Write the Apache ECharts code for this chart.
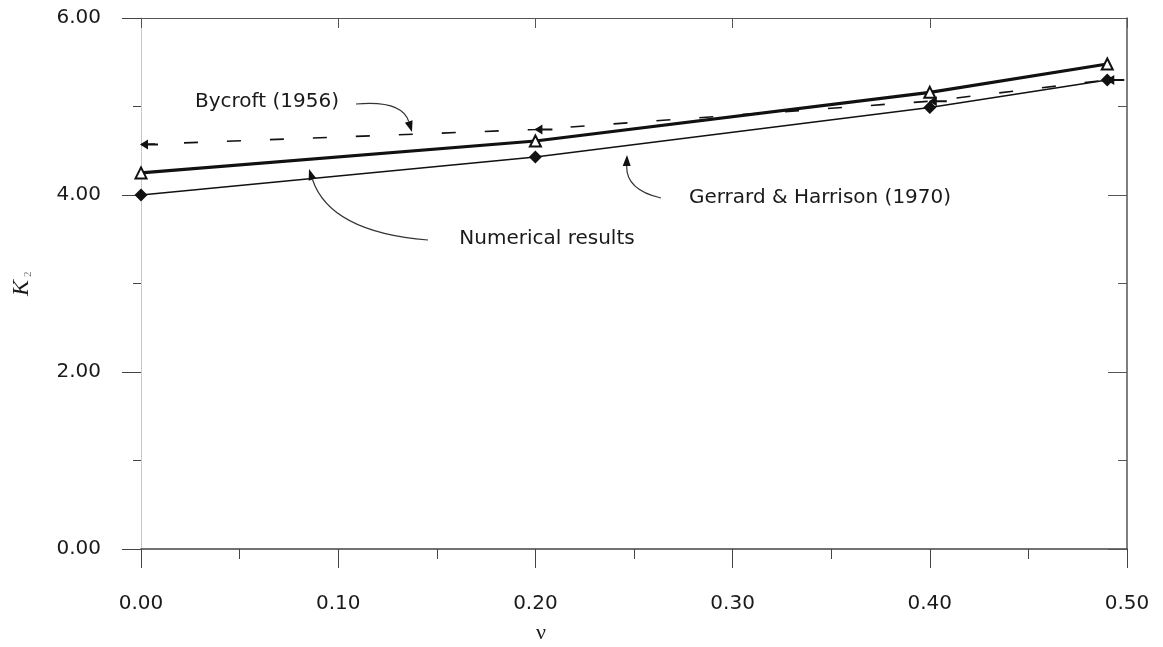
<!DOCTYPE html>
<html>
<head>
<meta charset="utf-8">
<script src="https://cdn.jsdelivr.net/npm/echarts@6/dist/echarts.min.js"></script>
<style>
  html, body { margin: 0; padding: 0; background: #fff; }
  #main { width: 1163px; height: 647px; }
</style>
</head>
<body>
<div id="main"></div>
<script>
// poisson ratio values
const nuValues = [0, 0.2, 0.4, 0.49]
// K2 curves
const numericalResults = [4.25, 4.61, 5.16, 5.48]
const gerrardHarrison = [4.0, 4.43, 4.99, 5.3]
const bycroft = [4.57, 4.74, 5.06, 5.3]

const pairs = ys => nuValues.map((x, i) => [x, ys[i]])

const tickFont = '"DejaVu Sans", "Liberation Sans", Arial, sans-serif'
const ink = '#1a1a1a'

/** curved leader line with arrow head */
function leader(sx, sy, cx, cy, tx, ty) {
  const dx = tx - cx, dy = ty - cy
  const len = Math.sqrt(dx * dx + dy * dy)
  const ux = dx / len, uy = dy / len
  const bx = tx - ux * 11, by = ty - uy * 11
  return [
    {
      type: 'bezierCurve',
      shape: { x1: sx, y1: sy, cpx1: cx, cpy1: cy, x2: bx, y2: by },
      style: { stroke: '#333', lineWidth: 1.2, fill: null }
    },
    {
      type: 'polygon',
      shape: { points: [[tx, ty], [bx - uy * 4, by + ux * 4], [bx + uy * 4, by - ux * 4]] },
      style: { fill: '#111' }
    }
  ]
}

const chart = echarts.init(document.getElementById('main'))

const option = {
  backgroundColor: '#fff',
  animation: false,
  grid: { left: 141, right: 36, top: 18, bottom: 98 },
  xAxis: [
    {
      type: 'value',
      position: 'bottom',
      min: 0,
      max: 0.5,
      interval: 0.1,
      axisLine: { onZero: false, lineStyle: { color: '#444', width: 1.5 } },
      axisTick: { length: 19, lineStyle: { color: '#444' } },
      minorTick: { show: true, splitNumber: 2, length: 10, lineStyle: { color: '#444' } },
      axisLabel: {
        margin: 45,
        color: ink,
        fontSize: 20,
        fontFamily: tickFont,
        formatter: v => v.toFixed(2)
      },
      splitLine: { show: false }
    },
    {
      type: 'value',
      position: 'top',
      min: 0,
      max: 0.5,
      interval: 0.1,
      axisLine: { onZero: false, lineStyle: { color: '#555', width: 1.2 } },
      axisTick: { inside: true, length: 10, lineStyle: { color: '#555' } },
      axisLabel: { show: false },
      splitLine: { show: false }
    }
  ],
  yAxis: [
    {
      type: 'value',
      position: 'left',
      min: 0,
      max: 6,
      interval: 2,
      axisLine: { show: true, onZero: false, lineStyle: { color: '#bbb', width: 1, type: 'dotted' } },
      axisTick: { length: 19, lineStyle: { color: '#444' } },
      minorTick: { show: true, splitNumber: 2, length: 8, lineStyle: { color: '#444' } },
      axisLabel: {
        margin: 40,
        color: ink,
        fontSize: 20,
        fontFamily: tickFont,
        formatter: v => v.toFixed(2)
      },
      splitLine: { show: false }
    },
    {
      type: 'value',
      position: 'right',
      min: 0,
      max: 6,
      interval: 2,
      axisLine: { show: true, onZero: false, lineStyle: { color: '#555', width: 1.5 } },
      axisTick: { inside: true, length: 19, lineStyle: { color: '#555' } },
      minorTick: { show: true, splitNumber: 2, length: 9, lineStyle: { color: '#555' } },
      axisLabel: { show: false },
      splitLine: { show: false }
    }
  ],
  series: [
    {
      name: 'Bycroft (1956)',
      type: 'line',
      data: pairs(bycroft),
      symbol: 'path://M0,5 L8,0 L8,4 L18,4 L18,6 L8,6 L8,10 Z',
      symbolSize: [18, 10],
      symbolOffset: [8, 0],
      itemStyle: { color: '#111' },
      lineStyle: { color: '#111', width: 1.6, type: [14, 29] },
      z: 1
    },
    {
      name: 'Gerrard & Harrison (1970)',
      type: 'line',
      data: pairs(gerrardHarrison),
      symbol: 'diamond',
      symbolSize: 13,
      itemStyle: { color: '#111' },
      lineStyle: { color: '#111', width: 1.5 },
      z: 2
    },
    {
      name: 'Numerical results',
      type: 'line',
      data: pairs(numericalResults),
      symbol: 'triangle',
      symbolSize: 11,
      itemStyle: { color: '#fff', borderColor: '#111', borderWidth: 2 },
      lineStyle: { color: '#111', width: 3.2 },
      z: 3
    }
  ],
  graphic: [
    {
      type: 'group',
      x: 22,
      y: 288,
      rotation: Math.PI / 2,
      children: [
        {
          type: 'text',
          x: 0,
          y: 0,
          style: { text: 'K', font: 'italic 24px "Liberation Serif", serif', fill: ink, align: 'center', verticalAlign: 'middle' }
        },
        {
          type: 'text',
          x: 11,
          y: 6,
          style: { text: '2', font: '11px "Liberation Serif", serif', fill: '#777', align: 'left', verticalAlign: 'middle' }
        }
      ]
    },
    {
      type: 'text',
      x: 541,
      y: 633,
      style: { text: 'ν', font: '22px "Liberation Serif", serif', fill: ink, align: 'center', verticalAlign: 'middle' }
    },
    {
      type: 'text',
      x: 267,
      y: 102,
      style: { text: 'Bycroft (1956)', font: '20px ' + tickFont, fill: ink, align: 'center', verticalAlign: 'middle' }
    },
    {
      type: 'text',
      x: 547,
      y: 239,
      style: { text: 'Numerical results', font: '20px ' + tickFont, fill: ink, align: 'center', verticalAlign: 'middle' }
    },
    {
      type: 'text',
      x: 820,
      y: 198,
      style: { text: 'Gerrard & Harrison (1970)', font: '20px ' + tickFont, fill: ink, align: 'center', verticalAlign: 'middle' }
    },
    ...leader(356, 104, 402, 100, 412, 132),
    ...leader(428, 240, 330, 232, 309, 169),
    ...leader(661, 198, 626, 190, 627, 155)
  ]
}

chart.setOption(option)
</script>
</body>
</html>
